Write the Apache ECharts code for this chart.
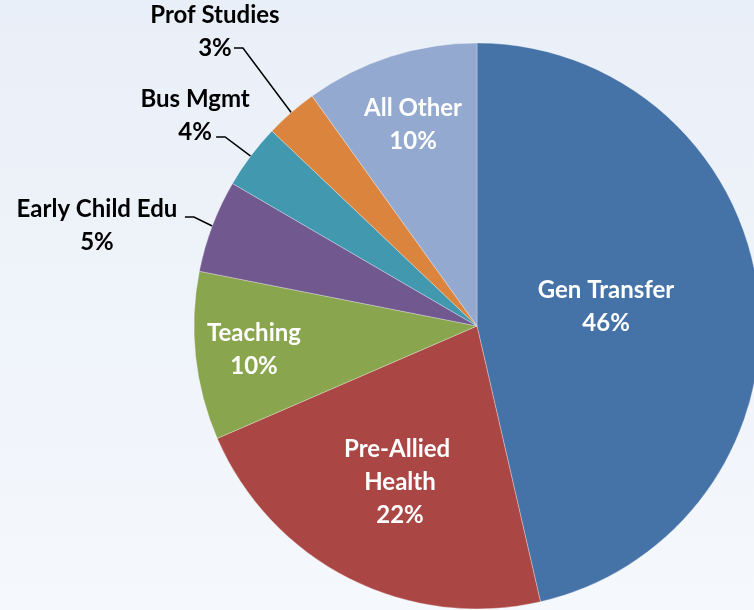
<!DOCTYPE html>
<html>
<head>
<meta charset="utf-8">
<script src="https://cdn.jsdelivr.net/npm/echarts@6/dist/echarts.min.js"></script>
<style>
  html, body { margin: 0; padding: 0; }
  #main { width: 754px; height: 610px; }
</style>
</head>
<body>
<div id="main"></div>
<script>
var categories = ['Gen Transfer', 'Pre-Allied Health', 'Teaching', 'Early Child Edu', 'Bus Mgmt', 'Prof Studies', 'All Other'];
var shares = [46.4, 22.1, 9.6, 5.3, 3.7, 3.0, 9.9];
var colors = ['#4572A7', '#AA4643', '#89A54E', '#71588F', '#4198AF', '#DB843D', '#93A9CF'];

// label centres, as fractions of the radius from the pie centre
var labelPos = [
    [0.456, -0.067],
    [-0.272, 0.551],
    [-0.788, 0.085],
    [-1.343, -0.353],
    [-0.996, -0.742],
    [-0.926, -1.039],
    [-0.226, -0.710]
];
// where the leader line meets the label, px from the label centre (outside labels only)
var lineAttach = [null, null, null, [88, -9], [21, 21], [19, 16], null];

var chartDom = document.getElementById('main');
var myChart = echarts.init(chartDom);
var option;

option = {
    backgroundColor: {
        type: 'linear', x: 0, y: 0, x2: 0, y2: 1,
        colorStops: [
            { offset: 0, color: '#e9eff8' },
            { offset: 1, color: '#f5f8fc' }
        ]
    },
    animation: false,
    series: [{
        type: 'pie',
        center: [477, 326],
        radius: 283,
        startAngle: 90,
        itemStyle: {
            borderColor: 'rgba(255,255,255,0.6)',
            borderWidth: 0.5
        },
        label: {
            fontFamily: 'Lato',
            fontWeight: 'bold',
            fontSize: 24,
            lineHeight: 33,
            align: 'center',
            formatter: function (p) {
                return p.name + '\n' + Math.round(p.percent) + '%';
            }
        },
        labelLine: {
            lineStyle: { color: '#000', width: 1.5 }
        },
        labelLayout: function (params) {
            var i = params.dataIndex;
            var layout = myChart.getModel().getSeriesByIndex(0).getData().getItemLayout(i);
            var p = labelPos[i];
            var x = layout.cx + p[0] * layout.r;
            var y = layout.cy + p[1] * layout.r;
            var res = { x: x, y: y, align: 'center', verticalAlign: 'middle' };
            if (lineAttach[i]) {
                var mid = (layout.startAngle + layout.endAngle) / 2;
                var ax = layout.cx + layout.r * Math.cos(mid);
                var ay = layout.cy + layout.r * Math.sin(mid);
                var ex = x + lineAttach[i][0];
                var ey = y + lineAttach[i][1];
                res.labelLinePoints = [[ax, ay], [ex + 9, ey], [ex, ey]];
            }
            return res;
        },
        data: categories.map(function (name, i) {
            var out = !!lineAttach[i];
            return {
                name: name,
                value: shares[i],
                itemStyle: { color: colors[i] },
                label: out
                    ? { position: 'outside', color: '#000' }
                    : { position: 'inside', color: '#fff', width: 150, overflow: 'break' },
                labelLine: { show: out, length: 15, length2: 8 }
            };
        })
    }]
};

option && myChart.setOption(option);
</script>
</body>
</html>
